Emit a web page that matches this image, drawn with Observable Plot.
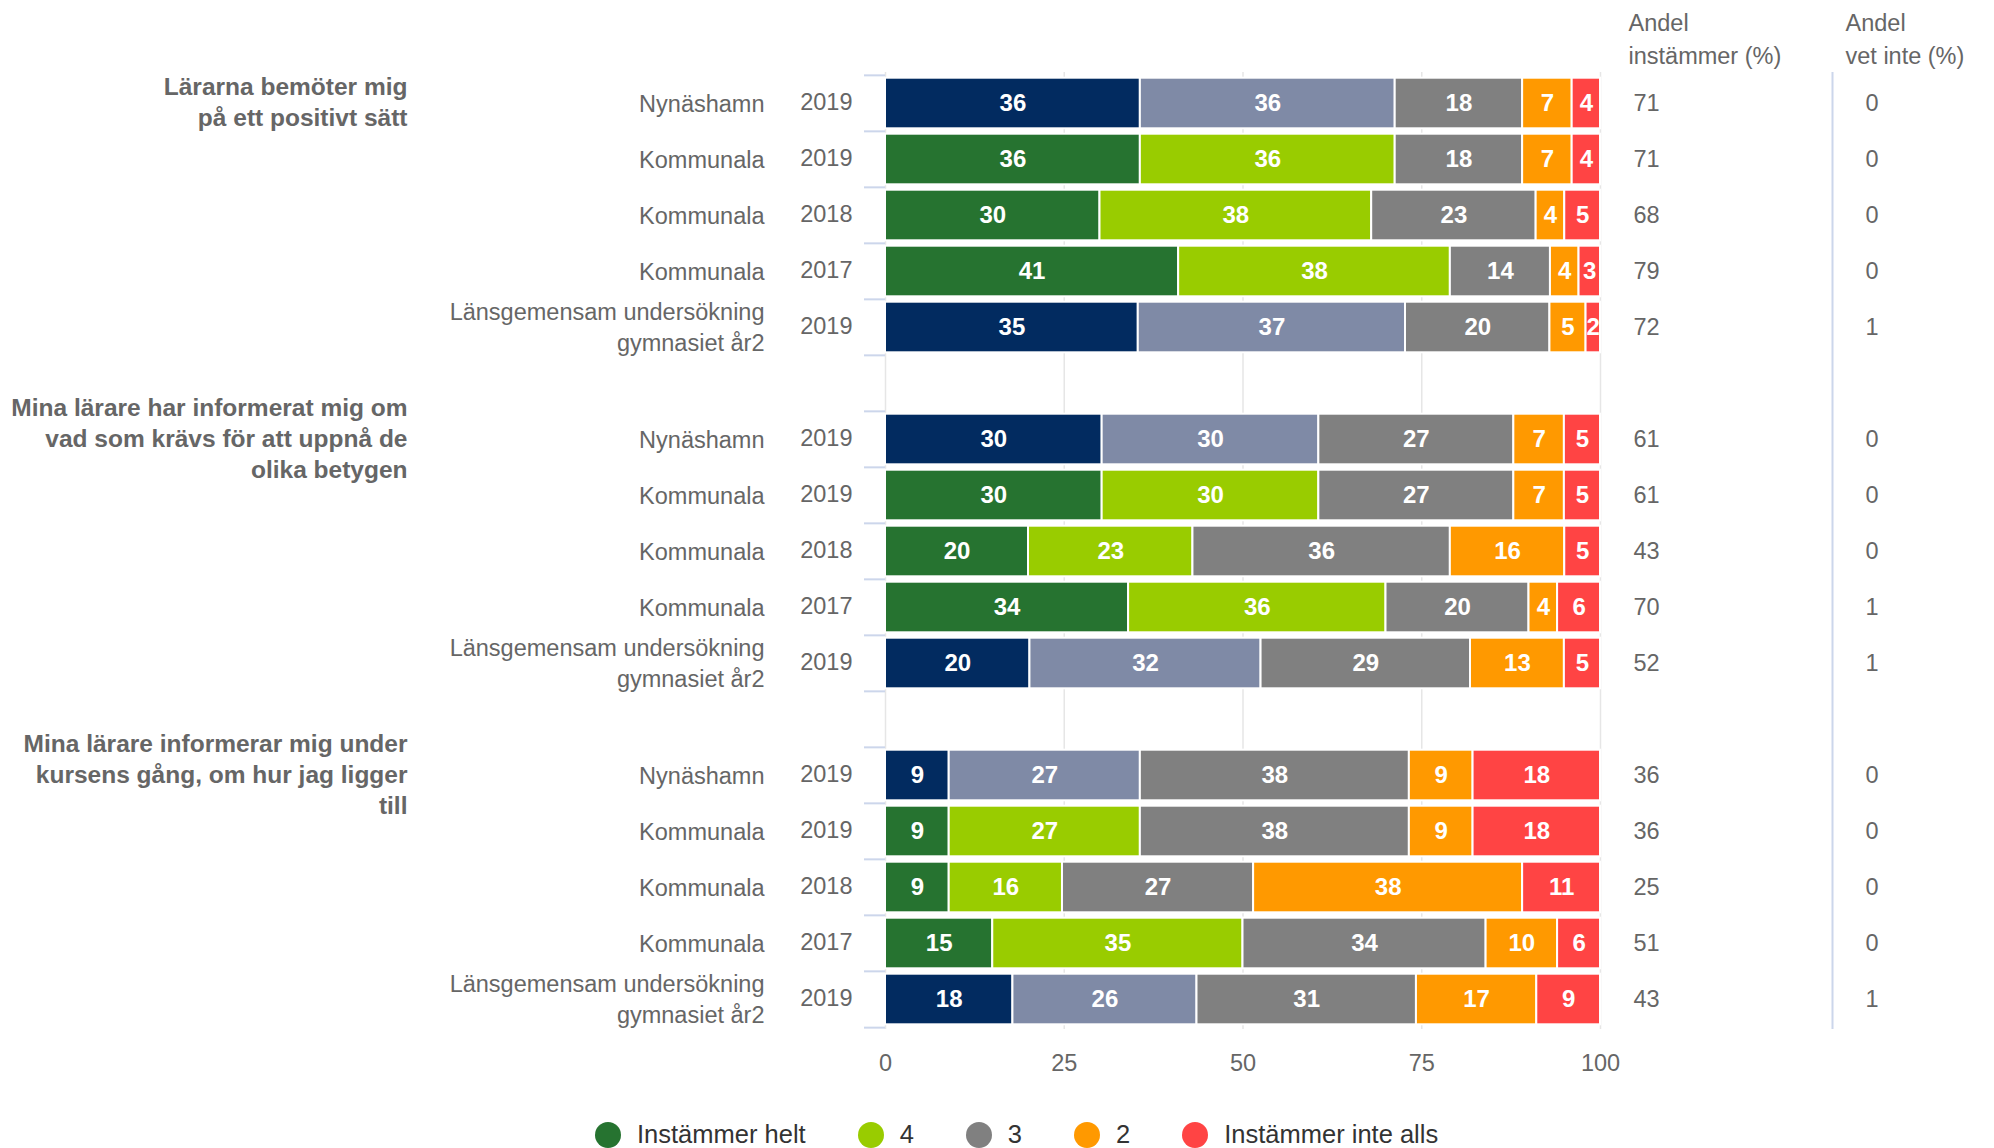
<!DOCTYPE html>
<html><head><meta charset="utf-8">
<script src="https://cdn.jsdelivr.net/npm/d3@7"></script>
<script src="https://cdn.jsdelivr.net/npm/@observablehq/plot@0.6"></script>
<style>
body{margin:0;background:#fff;font-family:"Liberation Sans",Arial,sans-serif;}
#wrap{position:relative;width:1994px;height:1148px;overflow:hidden;}
#legend{position:absolute;left:595px;top:1120px;display:flex;align-items:center;font-size:25.5px;color:#333;white-space:nowrap;}
.item{display:flex;align-items:center;margin-right:52px;}
.sw{width:26px;height:26px;border-radius:50%;margin-right:16px;}
</style></head><body><div id="wrap"><div id="chart"></div><div id="legend"></div></div>
<script>
// ---- data ----
const questions = [
  "Lärarna bemöter mig\npå ett positivt sätt",
  "Mina lärare har informerat mig om\nvad som krävs för att uppnå de\nolika betygen",
  "Mina lärare informerar mig under\nkursens gång, om hur jag ligger\ntill"
];
const rowLabels = ["Nynäshamn", "Kommunala", "Kommunala", "Kommunala", "Länsgemensam undersökning\ngymnasiet år2"];
const rowYears = ["2019", "2019", "2018", "2017", "2019"];
const rowPaletteKind = ["blue", "green", "green", "green", "blue"];
const categories = ["Instämmer helt", "4", "3", "2", "Instämmer inte alls"];
const q1Values = [[36,36,18,7,4],[36,36,18,7,4],[30,38,23,4,5],[41,38,14,4,3],[35,37,20,5,2]];
const q2Values = [[30,30,27,7,5],[30,30,27,7,5],[20,23,36,16,5],[34,36,20,4,6],[20,32,29,13,5]];
const q3Values = [[9,27,38,9,18],[9,27,38,9,18],[9,16,27,38,11],[15,35,34,10,6],[18,26,31,17,9]];
const andelInstammer = [[71,71,68,79,72],[61,61,43,70,52],[36,36,25,51,43]];
const andelVetInte = [[0,0,0,0,1],[0,0,0,1,1],[0,0,0,0,1]];
const headers = ["Andel\ninstämmer (%)", "Andel\nvet inte (%)"];
const xTicks = [0, 25, 50, 75, 100];

// ---- colours ----
const greenPalette = ["#267330", "#99cc00", "#808080", "#ff9900", "#ff4444"];
const bluePalette = ["#022b60", "#7f8aa6", "#808080", "#ff9900", "#ff4444"];

// ---- build tables ----
const allValues = [q1Values, q2Values, q3Values];
const domain = [], rows = [], segs = [], groups = [];
questions.forEach((q, gi) => {
  groups.push({title: q, key: `g${gi}r0`});
  rowLabels.forEach((lab, ri) => {
    const key = `g${gi}r${ri}`;
    domain.push(key);
    rows.push({key, label: lab, year: rowYears[ri], andel: andelInstammer[gi][ri], vetInte: andelVetInte[gi][ri]});
    const pal = rowPaletteKind[ri] === "blue" ? bluePalette : greenPalette;
    allValues[gi][ri].forEach((v, ci) => segs.push({key, ci, cat: categories[ci], value: v, fill: pal[ci]}));
  });
  if (gi < questions.length - 1) domain.push(`gap${gi}`);
});

const W = 1994, H = 1095, mL = 885, mR = 394, mT = 72, mB = H - 1029;
const step = (H - mT - mB) / domain.length;
const fs = 23.5;

const chart = Plot.plot({
  width: W, height: H,
  marginLeft: mL, marginRight: mR, marginTop: mT, marginBottom: mB,
  style: {fontFamily: "'Liberation Sans', Arial, sans-serif", fontSize: fs + "px", color: "#666", background: "transparent", overflow: "visible"},
  x: {domain: [0, 1], ticks: xTicks.map(d => d / 100), tickFormat: d => String(Math.round(d * 100)), tickSize: 0, tickPadding: 25, label: null},
  y: {domain, axis: null, padding: 0},
  color: {type: "identity"},
  marks: [
    Plot.ruleX(xTicks.map(d => d / 100), {stroke: "#e6e6e6", strokeWidth: 1.5}),
    Plot.ruleY(domain, {y: d => d, x1: () => 0, x2: () => 0, insetLeft: -21, dy: -step / 2, stroke: "#ccd6eb", strokeWidth: 2}),
    Plot.ruleY(domain.slice(-1), {y: d => d, x1: () => 0, x2: () => 0, insetLeft: -21, dy: step / 2, stroke: "#ccd6eb", strokeWidth: 2}),
    Plot.ruleX([1], {dx: 232, stroke: "#ccd6eb", strokeWidth: 2}),
    Plot.barX(segs, Plot.stackX({x: "value", y: "key", fill: "fill", offset: "normalize", insetTop: 2.7, insetBottom: 2.7, stroke: "white", strokeWidth: 2})),
    Plot.text(segs, Plot.stackX({x: "value", y: "key", text: d => String(d.value), offset: "normalize", fill: "white", fontWeight: "bold", fontSize: 24})),
    Plot.text(rows, {y: "key", text: "label", frameAnchor: "left", dx: -121, dy: -1.5, textAnchor: "end", lineHeight: 31 / fs, fill: "#666"}),
    Plot.text(rows, {y: "key", text: "year", frameAnchor: "left", dx: -33, dy: -1, textAnchor: "end", fill: "#666"}),
    Plot.text(groups, {y: "key", text: "title", frameAnchor: "left", dx: -478, dy: -2.5, textAnchor: "end", fontWeight: "bold", fontSize: 24.5, lineHeight: 31 / 24.5, fill: "#666"}),
    Plot.text(rows, {y: "key", text: d => String(d.andel), frameAnchor: "right", dx: 33, textAnchor: "start", fill: "#666"}),
    Plot.text(rows, {y: "key", text: d => String(d.vetInte), frameAnchor: "right", dx: 265, textAnchor: "start", fill: "#666"}),
    Plot.text([headers[0]], {text: d => d, frameAnchor: "top-right", dx: 28, dy: -36, lineAnchor: "middle", textAnchor: "start", lineHeight: 33 / fs, fill: "#666"}),
    Plot.text([headers[1]], {text: d => d, frameAnchor: "top-right", dx: 245, dy: -36, lineAnchor: "middle", textAnchor: "start", lineHeight: 33 / fs, fill: "#666"})
  ]
});
document.getElementById("chart").appendChild(chart);

const legend = document.getElementById("legend");
categories.forEach((c, i) => {
  const it = document.createElement("div");
  it.className = "item";
  const sw = document.createElement("span");
  sw.className = "sw";
  sw.style.background = greenPalette[i];
  const tx = document.createElement("span");
  tx.textContent = c;
  it.appendChild(sw); it.appendChild(tx);
  legend.appendChild(it);
});
</script></body></html>
